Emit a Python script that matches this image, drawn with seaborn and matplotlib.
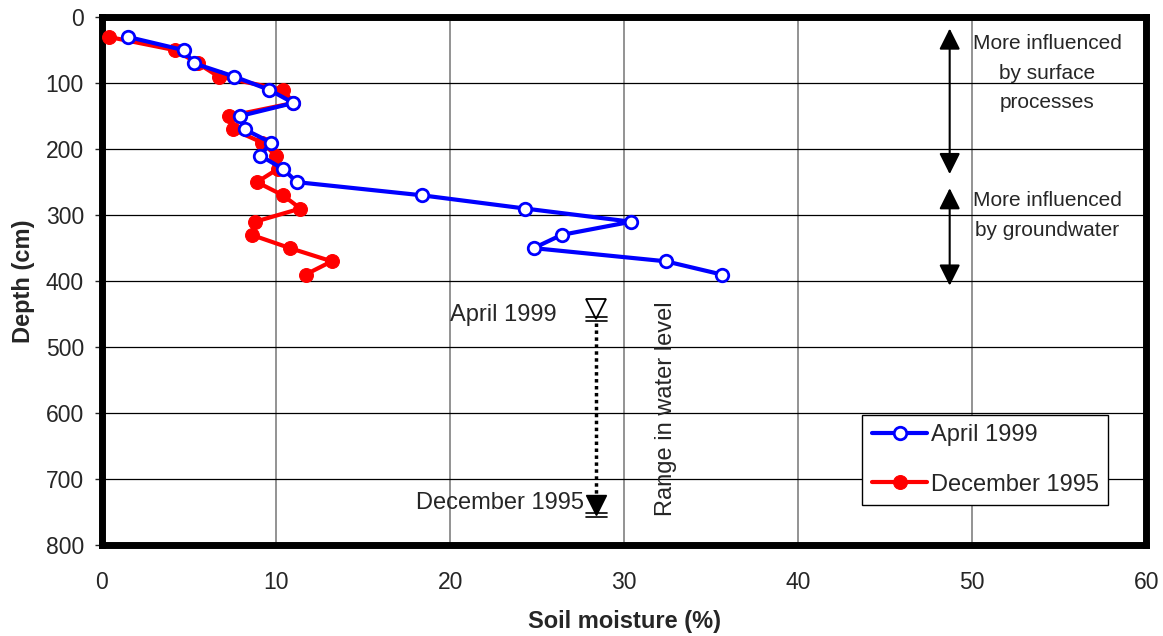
#!/usr/bin/env python3
"""
Soil moisture profiles vs depth, two survey dates
"""

import numpy as np
import pandas as pd
import matplotlib
matplotlib.use('Agg')
import matplotlib.pyplot as plt
import seaborn as sns

sns.set_style("white")
plt.rcParams['font.family'] = ['Liberation Sans', 'DejaVu Sans']

# data
depth = [30, 50, 70, 90, 110, 130, 150, 170, 190, 210, 230, 250,
         270, 290, 310, 330, 350, 370, 390]
moist_1999 = [1.5, 4.7, 5.3, 7.6, 9.6, 11.0, 7.9, 8.2, 9.7, 9.1, 10.4, 11.2,
              18.4, 24.3, 30.4, 26.4, 24.8, 32.4, 35.6]
moist_1995 = [0.4, 4.2, 5.5, 6.7, 10.4, 11.0, 7.3, 7.5, 9.2, 10.0, 10.1, 8.9,
              10.4, 11.4, 8.8, 8.6, 10.8, 13.2, 11.7]

water_x = 28.4
water_1999 = 455
water_1995 = 751

df = pd.concat([
    pd.DataFrame({'moisture': moist_1999, 'depth': depth, 'date': 'April 1999'}),
    pd.DataFrame({'moisture': moist_1995, 'depth': depth, 'date': 'December 1995'}),
])

fig = plt.figure(figsize=(11.63, 6.36), dpi=100)
ax = fig.add_axes([0.0877, 0.143, 0.898, 0.830])

# grid
for gx in range(10, 60, 10):
    ax.axvline(gx, color='#808080', lw=1.2, zorder=0)
for gy in range(100, 800, 100):
    ax.axhline(gy, color='black', lw=0.9, zorder=0)

sub = df[df['date'] == 'December 1995']
sns.lineplot(data=sub, x='moisture', y='depth', sort=False, estimator=None,
             color='red', lw=3, marker='o', markersize=10, markerfacecolor='red',
             markeredgecolor='red', ax=ax, label='December 1995', zorder=3)
sub = df[df['date'] == 'April 1999']
sns.lineplot(data=sub, x='moisture', y='depth', sort=False, estimator=None,
             color='blue', lw=3, marker='o', markersize=9, markerfacecolor='white',
             markeredgecolor='blue', markeredgewidth=2, ax=ax, label='April 1999', zorder=4)

# water level symbols
ax.plot([water_x, water_x], [water_1999 + 8, water_1995 - 14], ls=(0, (1, 1)),
        color='black', lw=2.5, zorder=2)
ax.plot(water_x, water_1999 - 13, marker='v', markersize=14, markerfacecolor='white',
        markeredgecolor='black', markeredgewidth=1.3, ls='none', zorder=5)
ax.plot(water_x, water_1995 - 11, marker='v', markersize=14, color='black', ls='none', zorder=5)
for wy in (water_1999, water_1995):
    ax.plot([water_x - 0.6, water_x + 0.6], [wy, wy], color='black', lw=1.2, zorder=5)
    ax.plot([water_x - 0.6, water_x + 0.6], [wy + 6, wy + 6], color='black', lw=1.2, zorder=5)

ax.text(26.1, 452, 'April 1999', ha='right', va='center', fontsize=17)
ax.text(27.7, 737, 'December 1995', ha='right', va='center', fontsize=17)
ax.text(32.4, 594, 'Range in water level', rotation=90, ha='center', va='center', fontsize=17)

# zone arrows
ax.annotate('', xy=(48.7, 242), xytext=(48.7, 13),
            arrowprops=dict(arrowstyle='<|-|>', color='black', lw=1.5, mutation_scale=32))
ax.annotate('', xy=(48.7, 411), xytext=(48.7, 255),
            arrowprops=dict(arrowstyle='<|-|>', color='black', lw=1.5, mutation_scale=32))
ax.text(54.3, 26, 'More influenced\nby surface\nprocesses', ha='center', va='top',
        fontsize=15, linespacing=1.68)
ax.text(54.3, 264, 'More influenced\nby groundwater', ha='center', va='top',
        fontsize=15, linespacing=1.68)

ax.set_xlim(0, 60)
ax.set_ylim(800, 0)
ax.set_xticks(range(0, 70, 10))
ax.set_yticks(range(0, 900, 100))
ax.tick_params(axis='y', labelsize=16.5, length=5, width=1, direction='out', left=True, pad=8)
ax.tick_params(axis='x', labelsize=16.5, length=0, pad=19)
ax.set_xlabel('Soil moisture (%)', fontsize=17, fontweight='bold', labelpad=11)
ax.set_ylabel('Depth (cm)', fontsize=17, fontweight='bold', labelpad=8)

for s in ax.spines.values():
    s.set_linewidth(5)
    s.set_color('black')

handles, labels = ax.get_legend_handles_labels()
order = [labels.index('April 1999'), labels.index('December 1995')]
ax.legend([handles[i] for i in order], [labels[i] for i in order],
          loc='lower right', bbox_to_anchor=(0.9636, 0.0758), fontsize=17,
          frameon=True, fancybox=False, edgecolor='black', framealpha=1,
          handlelength=2.35, handletextpad=0.15, labelspacing=1.15, borderpad=0.4,
          borderaxespad=0)

plt.savefig('out.png', dpi=100)
